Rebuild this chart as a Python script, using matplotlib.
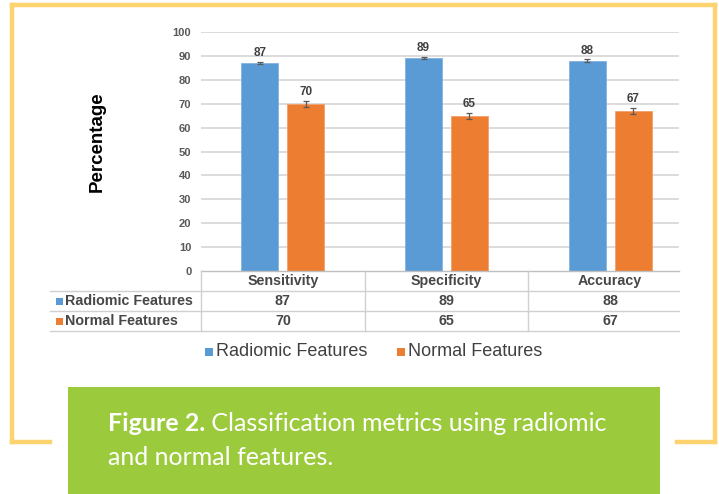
import matplotlib
matplotlib.use("Agg")
import matplotlib.pyplot as plt
from matplotlib.lines import Line2D
from matplotlib.patches import Rectangle
import numpy as np

categories = ["Sensitivity", "Specificity", "Accuracy"]
series_names = ["Radiomic Features", "Normal Features"]
radiomic = [87, 89, 88]
normal = [70, 65, 67]
radiomic_err = [0.5, 0.5, 0.5]
normal_err = [1.3, 1.3, 1.3]
yticks = [0, 10, 20, 30, 40, 50, 60, 70, 80, 90, 100]
ylabel = "Percentage"
caption_bold = "Figure 2."
caption_rest = " Classification metrics using radiomic"
caption_line2 = "and normal features."

BLUE = "#5B9BD5"
ORANGE = "#ED7D31"
YELLOW = "#FDD36F"
GREEN = "#9BCA3C"
GRID = "#D9D9D9"
TXT = "#404040"

W, H = 719, 494
fig = plt.figure(figsize=(W / 100, H / 100), dpi=100)
fig.patch.set_facecolor("white")
plt.rcParams["font.family"] = ["Liberation Sans", "DejaVu Sans"]

def fx(x):
    return x / W

def fy(y):
    return 1 - y / H

# yellow frame
for xs, ys in [((12, 12), (5, 442)), ((12, 715), (5, 5)), ((715, 715), (5, 442)),
               ((12, 50), (442, 442)), ((677, 715), (442, 442))]:
    fig.add_artist(Line2D([fx(v) for v in xs], [fy(v) for v in ys], color=YELLOW,
                          lw=3.2, solid_capstyle="projecting", transform=fig.transFigure))

# green caption box
fig.add_artist(Rectangle((fx(68), fy(494)), fx(660) - fx(68), fy(387) - fy(494),
                         facecolor=GREEN, edgecolor="none", transform=fig.transFigure))

# axes
x0, x1 = 201, 692
ytop, ybot = 32, 271
ax = fig.add_axes([fx(x0), fy(ybot), fx(x1) - fx(x0), fy(ytop) - fy(ybot)])
ax.set_xlim(-0.5, 2.5)
ax.set_ylim(0, 100)
for s in ax.spines.values():
    s.set_visible(False)
ax.set_xticks([])
ax.set_yticks(yticks)
ax.set_yticklabels([str(v) for v in yticks], fontsize=8, fontweight="bold", color="#595959")
ax.tick_params(axis="y", length=0, pad=7)
gx = (678 - x0) / (x1 - x0)
for v in yticks[1:]:
    ax.axhline(v, xmin=0, xmax=gx, color=GRID, lw=1.3, zorder=0)

x = np.arange(len(categories))
bw = 0.226
off = 0.14
ax.bar(x - off, radiomic, bw, color=BLUE, edgecolor="#7FB2E0", lw=0.6, zorder=2)
ax.bar(x + off, normal, bw, color=ORANGE, edgecolor="#F2A06A", lw=0.6, zorder=2)
ax.errorbar(x - off, radiomic, yerr=radiomic_err, fmt="none", ecolor="#595959",
            elinewidth=0.9, capsize=2.5, capthick=0.9, zorder=3)
ax.errorbar(x + off, normal, yerr=normal_err, fmt="none", ecolor="#595959",
            elinewidth=0.9, capsize=2.5, capthick=0.9, zorder=3)
for xi, v, e in zip(x - off, radiomic, radiomic_err):
    ax.text(xi, v + e + 1.2, str(v), ha="center", va="bottom", fontsize=8.5,
            fontweight="bold", color=TXT)
for xi, v, e in zip(x + off, normal, normal_err):
    ax.text(xi, v + e + 1.2, str(v), ha="center", va="bottom", fontsize=8.5,
            fontweight="bold", color=TXT)

ax.text(fx(97), 0.5 * (fy(90) + fy(193)), ylabel, transform=fig.transFigure,
        rotation=90, ha="center", va="center", fontsize=13.5, fontweight="bold",
        color="black")

# data table
TT = "#474747"
tl = dict(color="#D0D0D0", lw=1.0, transform=fig.transFigure)
fig.add_artist(Line2D([fx(201), fx(679)], [fy(271), fy(271)], color="#BFBFBF", lw=1.0,
                      transform=fig.transFigure))
for yy in (291, 311, 331):
    fig.add_artist(Line2D([fx(50), fx(679)], [fy(yy), fy(yy)], **tl))
col_w = (x1 - x0) / len(categories)
for i in range(len(categories)):
    xx = x0 + i * col_w
    fig.add_artist(Line2D([fx(xx), fx(xx)], [fy(271), fy(331)], **tl))
    fig.text(fx(xx + col_w / 2), fy(281), categories[i], ha="center", va="center",
             fontsize=10.3, fontweight="bold", color=TT)
    fig.text(fx(xx + col_w / 2), fy(301), str(radiomic[i]), ha="center", va="center",
             fontsize=10.3, fontweight="bold", color=TT)
    fig.text(fx(xx + col_w / 2), fy(321), str(normal[i]), ha="center", va="center",
             fontsize=10.3, fontweight="bold", color=TT)
for yy, name, col in ((301, series_names[0], BLUE), (321, series_names[1], ORANGE)):
    fig.add_artist(Rectangle((fx(56), fy(yy + 3.5)), 7 / W, 7 / H, facecolor=col,
                             edgecolor="none", transform=fig.transFigure))
    fig.text(fx(65), fy(yy), name, ha="left", va="center", fontsize=10.3,
             fontweight="bold", color=TT)

# legend
for xs, name, col in ((205, series_names[0], BLUE), (397, series_names[1], ORANGE)):
    fig.add_artist(Rectangle((fx(xs), fy(356)), 8 / W, 8 / H, facecolor=col,
                             edgecolor="none", transform=fig.transFigure))
    fig.text(fx(xs + 11), fy(351), name, ha="left", va="center", fontsize=13,
             color=TXT)

# caption
cap_font = ["Lato", "DejaVu Sans"]
t = fig.text(fx(108), fy(423), caption_bold, ha="left", va="center", fontsize=18,
             fontweight="bold", color="white", family=cap_font)
fig.canvas.draw()
bb = t.get_window_extent()
fig.text(bb.x1 / W, fy(423), caption_rest, ha="left", va="center", fontsize=18,
         fontweight="normal", color="white", family=cap_font)
fig.text(fx(108), fy(457), caption_line2, ha="left", va="center", fontsize=18,
         fontweight="normal", color="white", family=cap_font)

fig.savefig("out.png", dpi=100)
